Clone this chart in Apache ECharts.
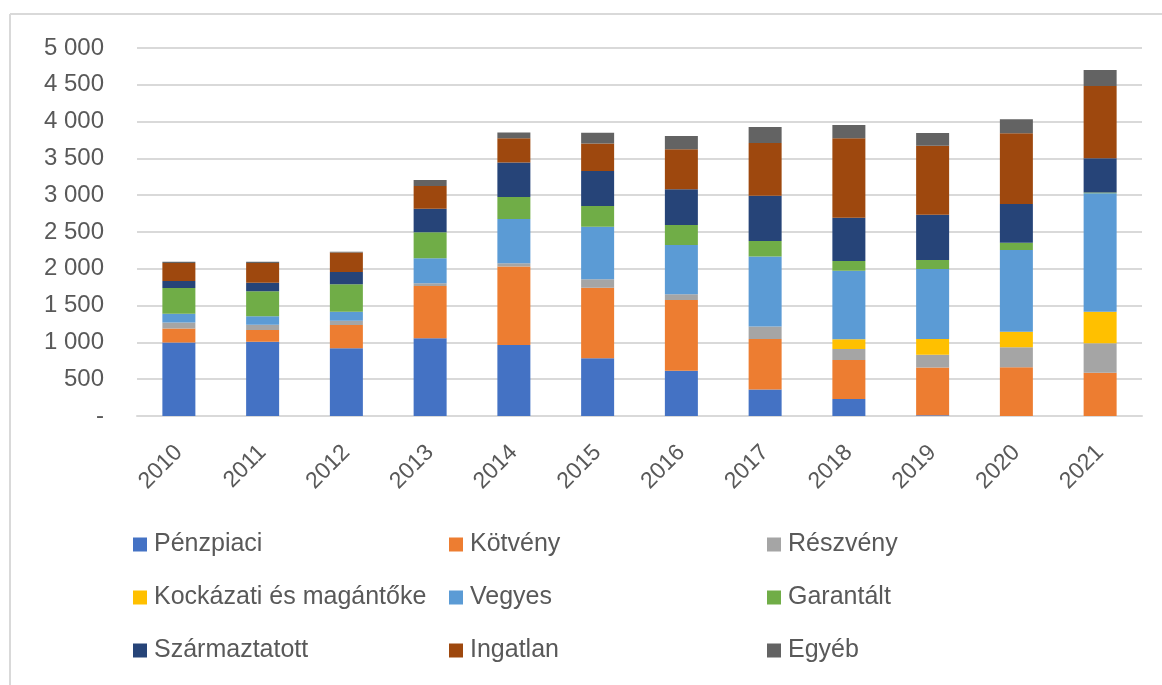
<!DOCTYPE html>
<html>
<head>
<meta charset="utf-8">
<script src="https://cdn.jsdelivr.net/npm/echarts@6/dist/echarts.min.js"></script>
<style>
  html, body { margin: 0; padding: 0; background: #fff; }
  #chart { width: 1162px; height: 685px; }
</style>
</head>
<body>
<div id="chart"></div>
<script>
// évek
var years = ['2010', '2011', '2012', '2013', '2014', '2015', '2016', '2017', '2018', '2019', '2020', '2021'];

// alapkategóriák (mrd Ft, leolvasott értékek)
var penzpiaci     = [1000, 1010, 920, 1055, 965, 783, 616, 360, 231, 10, 0, 0];
var kotveny       = [190, 160, 315, 710, 1065, 960, 960, 685, 530, 650, 661, 589];
var reszveny      = [80, 70, 60, 40, 45, 115, 77, 170, 150, 172, 272, 399];
var kockazati     = [0, 0, 0, 0, 0, 0, 0, 0, 132, 213, 212, 429];
var vegyes        = [120, 115, 120, 340, 600, 715, 670, 952, 932, 952, 1110, 1609];
var garantalt     = [350, 340, 375, 350, 300, 280, 272, 210, 132, 122, 100, 10];
var szarmaztatott = [95, 115, 165, 320, 470, 475, 485, 615, 588, 616, 525, 466];
var ingatlan      = [245, 270, 265, 310, 330, 375, 543, 716, 1079, 937, 961, 982];
var egyeb         = [15, 15, 10, 80, 77, 145, 181, 220, 181, 172, 190, 218];

var seriesNames = ['Pénzpiaci', 'Kötvény', 'Részvény', 'Kockázati és magántőke', 'Vegyes',
                   'Garantált', 'Származtatott', 'Ingatlan', 'Egyéb'];
var seriesData = [penzpiaci, kotveny, reszveny, kockazati, vegyes, garantalt, szarmaztatott, ingatlan, egyeb];
var colors = ['#4472C4', '#ED7D31', '#A5A5A5', '#FFC000', '#5B9BD5', '#70AD47', '#264478', '#9E480E', '#636363'];

var font = 'Liberation Sans, Arial, sans-serif';
var textGray = '#595959';

var chart = echarts.init(document.getElementById('chart'));

var series = seriesNames.map(function (name, i) {
  return {
    name: name,
    type: 'bar',
    stack: 'total',
    barWidth: 33,
    itemStyle: { color: colors[i] },
    data: seriesData[i]
  };
});

// legenda oszloponként (3 oszlop x 3 sor)
function legendCol(names, left) {
  return {
    orient: 'vertical',
    left: left,
    top: 527,
    itemWidth: 14,
    itemHeight: 14,
    itemGap: 28,
    icon: 'rect',
    selectedMode: false,
    textStyle: { fontFamily: font, fontSize: 25, color: textGray, padding: [0, 0, 0, 2] },
    data: names
  };
}

var option = {
  animation: false,
  color: colors,
  grid: { left: 137, right: 20, top: 48, bottom: 269 },
  legend: [
    legendCol(['Pénzpiaci', 'Kockázati és magántőke', 'Származtatott'], 128),
    legendCol(['Kötvény', 'Vegyes', 'Ingatlan'], 444),
    legendCol(['Részvény', 'Garantált', 'Egyéb'], 762)
  ],
  graphic: [
    { type: 'line', shape: { x1: 10, y1: 14, x2: 1162, y2: 14 }, style: { stroke: '#d9d9d9', lineWidth: 2 } },
    { type: 'line', shape: { x1: 10, y1: 14, x2: 10, y2: 685 }, style: { stroke: '#d9d9d9', lineWidth: 2 } }
  ],
  xAxis: {
    type: 'category',
    data: years,
    axisTick: { show: false },
    axisLine: { lineStyle: { color: '#d9d9d9', width: 2 } },
    axisLabel: {
      rotate: 45,
      margin: 33,
      fontFamily: font,
      fontSize: 23,
      color: textGray
    }
  },
  yAxis: {
    type: 'value',
    min: 0,
    max: 5000,
    interval: 500,
    axisLine: { show: false },
    axisTick: { show: false },
    splitLine: { lineStyle: { color: '#d9d9d9', width: 2 } },
    axisLabel: {
      margin: 33,
      fontFamily: font,
      fontSize: 24,
      color: textGray,
      formatter: function (v) {
        if (v === 0) return '-';
        return String(v).replace(/\B(?=(\d{3})+(?!\d))/g, ' ');
      }
    }
  },
  series: series
};

chart.setOption(option);
</script>
</body>
</html>
